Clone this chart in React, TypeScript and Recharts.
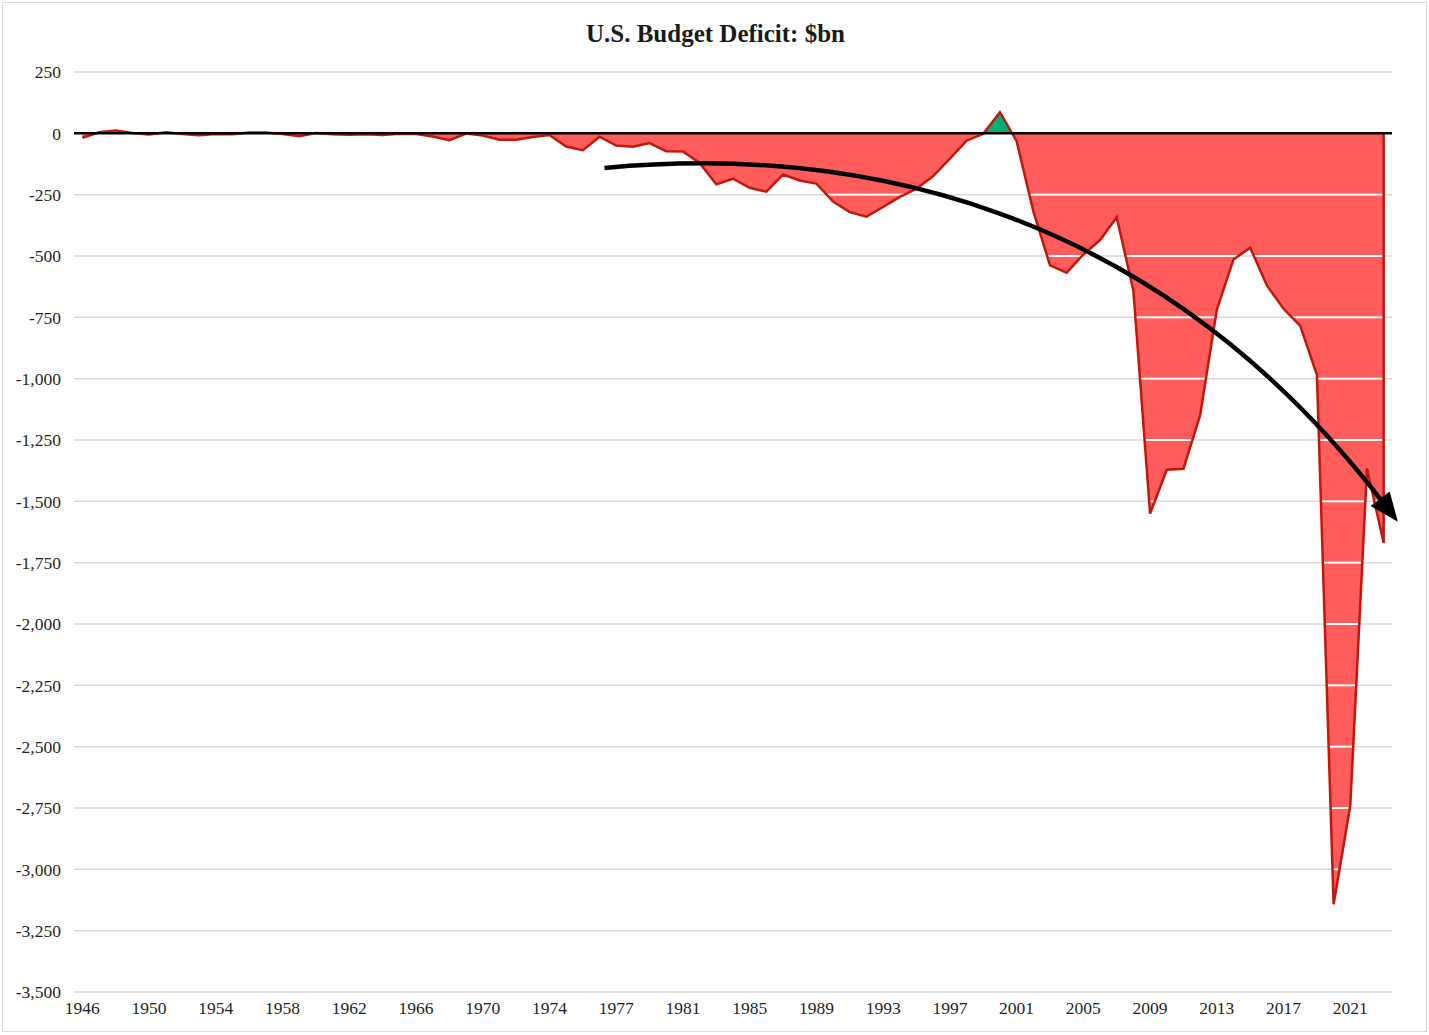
import React from "react";
import {
  AreaChart,
  Area,
  XAxis,
  YAxis,
  CartesianGrid,
  ReferenceLine,
  Customized,
} from "recharts";

// fiscal years, with the 1976 transition quarter as its own category
const years = [
  "1946", "1947", "1948", "1949", "1950", "1951", "1952", "1953", "1954", "1955",
  "1956", "1957", "1958", "1959", "1960", "1961", "1962", "1963", "1964", "1965",
  "1966", "1967", "1968", "1969", "1970", "1971", "1972", "1973", "1974", "1975",
  "1976", "TQ", "1977", "1978", "1979", "1980", "1981", "1982", "1983", "1984",
  "1985", "1986", "1987", "1988", "1989", "1990", "1991", "1992", "1993", "1994",
  "1995", "1996", "1997", "1998", "1999", "2000", "2001", "2002", "2003", "2004",
  "2005", "2006", "2007", "2008", "2009", "2010", "2011", "2012", "2013", "2014",
  "2015", "2016", "2017", "2018", "2019", "2020", "2021", "2022", "2023",
];

const deficit = [
  -18, 4, 12, 1, -5, 4, -3, -8, -3, -4,
  3, 3, -3, -12, 1, -4, -6, -4, -7, -2,
  -3, -13, -28, -1, -9, -26, -26, -15, -7, -54,
  -69, -14, -50, -55, -40, -73, -74, -121, -208, -185,
  -222, -238, -168, -192, -205, -278, -321, -340, -300, -259,
  -226, -174, -103, -30, -2, 86, -32, -317, -538, -568,
  -494, -435, -342, -642, -1550, -1371, -1367, -1149, -719, -514,
  -466, -620, -715, -785, -984, -3142, -2740, -1366, -1669,
];

const yTicks = [
  250, 0, -250, -500, -750, -1000, -1250, -1500, -1750, -2000,
  -2250, -2500, -2750, -3000, -3250, -3500,
];

// annotation arrow, in (category index, $bn)
const arrowPts = [
  [31.3, -141],
  [46, -48],
  [64, -272],
  [77.9, -1499],
];

const data = years.map((year, i) => ({ year, value: deficit[i] }));

const W = 1423;
const H = 1028;
const MARGIN = { top: 69, right: 34, left: 11, bottom: 9 };
const Y_AXIS_W = 60;
const X_AXIS_H = 30;
const PLOT_LEFT = MARGIN.left + Y_AXIS_W;
const PLOT_TOP = MARGIN.top;
const PLOT_W = W - PLOT_LEFT - MARGIN.right;
const PLOT_H = H - MARGIN.top - MARGIN.bottom - X_AXIS_H;
const PAD = PLOT_W / (2 * years.length);
const Y_MIN = -3500;
const Y_MAX = 250;

const FONT = "'Liberation Serif', 'Times New Roman', serif";
const RED = "#FF5C5C";
const DARK_RED = "#C4170C";
const GREEN = "#00AF78";
const GRID = "#D9D9D9";

const xOf = (i: number) => PLOT_LEFT + PAD + (i * (PLOT_W - 2 * PAD)) / (years.length - 1);
const yOf = (v: number) => PLOT_TOP + ((Y_MAX - v) / (Y_MAX - Y_MIN)) * PLOT_H;

// fill for the area: green above zero, red below, white gridlines through the red
function FillDefs() {
  const zeroY = yOf(0);
  return (
    <defs>
      <pattern id="deficitFill" patternUnits="userSpaceOnUse" x={0} y={0} width={W} height={H}>
        <rect x={0} y={0} width={W} height={zeroY} fill={GREEN} />
        <rect x={0} y={zeroY} width={W} height={H - zeroY} fill={RED} />
        {yTicks
          .filter((t) => t < 0)
          .map((t) => (
            <rect key={t} x={0} y={yOf(t) - 1} width={W} height={2} fill="#ffffff" />
          ))}
      </pattern>
    </defs>
  );
}

function Arrow() {
  const p = arrowPts.map(([i, v]) => [xOf(i), yOf(v)]);
  const d = `M${p[0][0]},${p[0][1]} C${p[1][0]},${p[1][1]} ${p[2][0]},${p[2][1]} ${p[3][0]},${p[3][1]}`;
  const dx = p[3][0] - p[2][0];
  const dy = p[3][1] - p[2][1];
  const len = Math.hypot(dx, dy);
  const ux = dx / len;
  const uy = dy / len;
  const headLen = 26;
  const headHalf = 12;
  const tipX = p[3][0] + ux * headLen;
  const tipY = p[3][1] + uy * headLen;
  const bx = p[3][0] - ux * 3;
  const by = p[3][1] - uy * 3;
  const head = `${tipX},${tipY} ${bx - uy * headHalf},${by + ux * headHalf} ${bx + uy * headHalf},${by - ux * headHalf}`;
  return (
    <svg
      width={W}
      height={H}
      style={{ position: "absolute", left: 0, top: 0, pointerEvents: "none" }}
    >
      <path d={d} fill="none" stroke="#000" strokeWidth={4.5} />
      <polygon points={head} fill="#000" />
      <text
        x={W / 2 + 1}
        y={39}
        textAnchor="middle"
        fontFamily={FONT}
        fontWeight="bold"
        fontSize={25}
        fill="#1a1a1a"
      >
        U.S. Budget Deficit: $bn
      </text>
    </svg>
  );
}

export default function App() {
  const lastYear = years[years.length - 1];
  const lastVal = deficit[deficit.length - 1];
  return (
    <div
      style={{
        position: "absolute",
        left: 2,
        top: 2,
        width: W,
        height: H,
        border: "1px solid #d9d9d9",
        background: "#fff",
      }}
    >
      <AreaChart width={W} height={H} data={data} margin={MARGIN}>
        <Customized component={FillDefs} />
        <CartesianGrid horizontal vertical={false} stroke={GRID} strokeWidth={1.5} />
        <XAxis
          dataKey="year"
          interval={3}
          padding={{ left: PAD, right: PAD }}
          axisLine={false}
          tickLine={false}
          tickMargin={4}
          height={X_AXIS_H}
          tick={{ fontFamily: FONT, fontSize: 17.5, fill: "#1f1f1f" }}
        />
        <YAxis
          type="number"
          domain={[Y_MIN, Y_MAX]}
          ticks={yTicks}
          width={Y_AXIS_W}
          axisLine={false}
          tickLine={false}
          tickMargin={7}
          interval={0}
          tickFormatter={(v: number) => v.toLocaleString("en-US")}
          tick={{ fontFamily: FONT, fontSize: 17.5, fill: "#1f1f1f" }}
        />
        <Area
          type="linear"
          dataKey="value"
          baseValue={0}
          fill="url(#deficitFill)"
          fillOpacity={1}
          stroke={DARK_RED}
          strokeWidth={2.5}
          dot={false}
          activeDot={false}
          isAnimationActive={false}
        />
        <ReferenceLine
          segment={[
            { x: lastYear, y: 0 },
            { x: lastYear, y: lastVal },
          ]}
          stroke={DARK_RED}
          strokeWidth={2.5}
        />
        <ReferenceLine y={0} stroke="#000" strokeWidth={2.5} />
      </AreaChart>
      <Arrow />
    </div>
  );
}
